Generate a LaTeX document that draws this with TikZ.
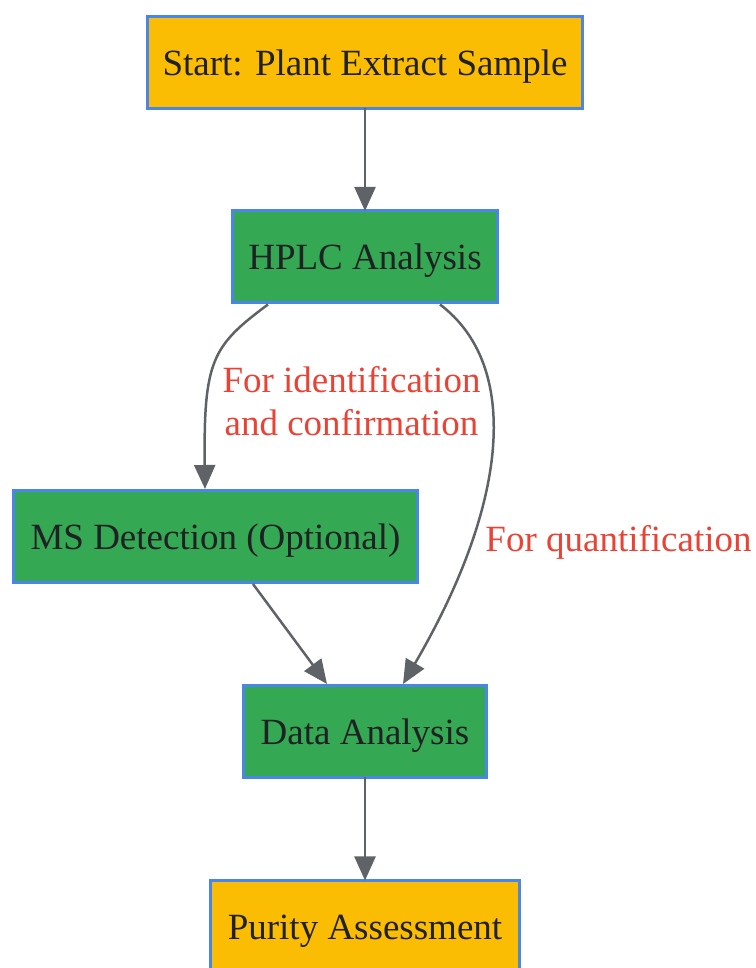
\documentclass[tikz,border=0pt]{standalone}
\usepackage{fontspec}
\setmainfont{Liberation Serif}
\usetikzlibrary{arrows.meta,calc}
\definecolor{gblue}{HTML}{4A86E8}
\definecolor{ggreen}{HTML}{34A853}
\definecolor{gyellow}{HTML}{FBBC04}
\definecolor{gred}{HTML}{EA4335}
\definecolor{ggray}{HTML}{5F6368}
\definecolor{gtext}{HTML}{202124}
\begin{document}
\begin{tikzpicture}[x=1pt,y=1pt,
  box/.style={draw=gblue,line width=3pt,minimum height=92pt,inner sep=0pt,outer sep=0pt,
    text height=26pt,text depth=0pt,
    text=gtext,font=\fontsize{37}{44}\selectfont},
  ybox/.style={box,fill=gyellow},
  gbox/.style={box,fill=ggreen},
  conn/.style={draw=ggray,line width=2.5pt,-{Triangle[length=24pt,width=21pt]}},
  lbl/.style={text=gred,font=\fontsize{37}{43}\selectfont,align=center,inner sep=1pt}]
\useasboundingbox (0,0) rectangle (755,968);
\node[ybox,minimum width=435pt] (start) at (365,905.5) {Start: Plant Extract Sample};
\node[gbox,minimum width=265pt] (hplc) at (365,711) {HPLC Analysis};
\node[gbox,minimum width=404pt] (ms) at (215.5,431.5) {MS Detection (Optional)};
\node[gbox,minimum width=243pt] (data) at (365,236.5) {Data Analysis};
\node[ybox,minimum width=309pt] (purity) at (365,41.5) {Purity Assessment};
\draw[conn] (start.south) -- (hplc.north);
\draw[conn] ($(hplc.south)+(-97,-1.5)$) .. controls ($(hplc.south)+(-153,-43)$) and ($(ms.north)+(-12,130)$) .. ($(ms.north)+(-10.5,1.5)$);
\draw[conn] ($(hplc.south)+(75,-1.5)$) .. controls ($(hplc.south)+(155,-62)$) and ($(data.north)+(145,185)$) .. ($(data.north)+(38,1.5)$);
\draw[conn] ($(ms.south)+(37.5,-1.5)$) -- ($(data.north)+(-38,1.5)$);
\draw[conn] (data.south) -- (purity.north);
\node[lbl] (l1) at (351.5,567) {For identification\\and confirmation};
\node[lbl] (l2) at (618.5,426) {For quantification};
\end{tikzpicture}
\end{document}
